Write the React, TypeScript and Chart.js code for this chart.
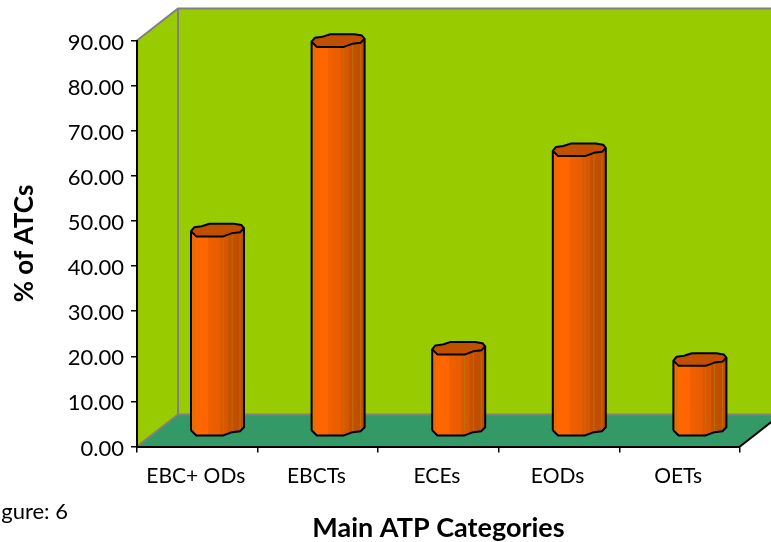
import React, { useEffect, useRef } from "react";
import { Chart, registerables } from "chart.js";

Chart.register(...registerables);

const categories = ["EBC+ ODs", "EBCTs", "ECEs", "EODs", "OETs"];
const atcShare = [44.4, 86.4, 18.2, 62.2, 15.7];
const yTicksMax = 90;
const yTickStep = 10;

const FONT = "Lato, Carlito, 'Open Sans', sans-serif";
const DEPTH_X = 41;
const DEPTH_Y = 32;
const WALL = "#99CC00";
const FLOOR = "#339966";
const FRAME = "#808080";

// Faceted cylinder rims, relative to the centre of the rim, in half-widths and half-heights.
const frontRim: [number, number][] = [
  [-1, 0.15], [-0.8, 0.95], [0.22, 0.95], [0.55, 0.45], [0.85, 0.3], [1, -0.3],
];
const backRim: [number, number][] = [
  [1, -0.3], [0.9, -0.8], [0.62, -1], [-0.3, -1], [-0.6, -0.6], [-0.88, -0.45], [-1, 0.15],
];

const wallsPlugin = {
  id: "walls",
  beforeDraw(chart: any) {
    const { ctx, chartArea: a } = chart;
    const { left: l, right: r, top: t, bottom: b } = a;
    const bl = l + DEPTH_X;
    const bt = t - DEPTH_Y;
    const bb = b - DEPTH_Y;
    const br = r + DEPTH_X;
    ctx.save();
    ctx.fillStyle = WALL;
    ctx.beginPath();
    ctx.moveTo(l, b); ctx.lineTo(bl, bb); ctx.lineTo(bl, bt); ctx.lineTo(l, t);
    ctx.closePath();
    ctx.fill();
    ctx.fillRect(bl, bt, br - bl, bb - bt);
    ctx.fillStyle = FLOOR;
    ctx.beginPath();
    ctx.moveTo(l, b); ctx.lineTo(r, b); ctx.lineTo(br, bb); ctx.lineTo(bl, bb);
    ctx.closePath();
    ctx.fill();
    ctx.strokeStyle = FRAME;
    ctx.lineWidth = 2;
    ctx.beginPath();
    ctx.moveTo(l, t); ctx.lineTo(bl, bt); ctx.lineTo(br, bt);
    ctx.moveTo(bl, bt); ctx.lineTo(bl, bb);
    ctx.moveTo(l, b); ctx.lineTo(bl, bb); ctx.lineTo(br, bb);
    ctx.stroke();
    ctx.strokeStyle = "#000";
    ctx.beginPath();
    ctx.moveTo(r, b); ctx.lineTo(br, bb);
    ctx.stroke();
    ctx.restore();
  },
};

function traceRim(ctx: any, rim: [number, number][], cx: number, cy: number, w: number, h: number, start: boolean) {
  rim.forEach(([dx, dy], i) => {
    const x = cx + dx * w;
    const y = cy + dy * h;
    if (i === 0 && start) ctx.moveTo(x, y);
    else ctx.lineTo(x, y);
  });
}

const cylindersPlugin = {
  id: "cylinders",
  afterDatasetsDraw(chart: any) {
    const { ctx } = chart;
    const halfW = 26.5;
    const halfH = 6.5;
    ctx.save();
    ctx.lineJoin = "round";
    chart.getDatasetMeta(0).data.forEach((bar: any) => {
      const cx = bar.x + DEPTH_X / 2 - 0.3;
      const top = bar.y - DEPTH_Y / 2;
      const base = bar.base - DEPTH_Y / 2 - 0.5;

      const grad = ctx.createLinearGradient(cx - halfW, 0, cx + halfW, 0);
      [
        [0, "#F56200"], [0.04, "#FF6600"], [0.31, "#FF6600"], [0.32, "#F06000"],
        [0.55, "#E85C00"], [0.56, "#DC5800"], [0.7, "#D85600"], [0.71, "#C65000"], [1, "#BC4C00"],
      ].forEach(([o, c]) => grad.addColorStop(o as number, c as string));

      ctx.beginPath();
      traceRim(ctx, frontRim, cx, base, halfW, halfH, true);
      traceRim(ctx, [...frontRim].reverse(), cx, top, halfW, halfH, false);
      ctx.closePath();
      ctx.fillStyle = grad;
      ctx.fill();

      // Thin seams between the facets
      ctx.strokeStyle = "#B87A00";
      ctx.lineWidth = 0.8;
      [-0.88, 0.22, 0.55, 0.85].forEach((f) => {
        const x = cx + f * halfW;
        ctx.beginPath();
        ctx.moveTo(x, top + halfH * 0.7);
        ctx.lineTo(x, base + halfH * 0.3);
        ctx.stroke();
      });

      ctx.strokeStyle = "#000";
      ctx.lineWidth = 2;
      ctx.beginPath();
      traceRim(ctx, frontRim, cx, base, halfW, halfH, true);
      ctx.lineTo(cx + halfW, top - 0.3 * halfH);
      ctx.moveTo(cx - halfW, base + 0.15 * halfH);
      ctx.lineTo(cx - halfW, top + 0.15 * halfH);
      ctx.stroke();

      ctx.beginPath();
      traceRim(ctx, frontRim, cx, top, halfW, halfH, true);
      traceRim(ctx, backRim, cx, top, halfW, halfH, false);
      ctx.closePath();
      ctx.fillStyle = "#C05000";
      ctx.fill();
      ctx.stroke();
    });
    ctx.restore();
  },
};

// Caption that runs off the left edge of the page
const captionPlugin = {
  id: "caption",
  afterDraw(chart: any) {
    const { ctx } = chart;
    ctx.save();
    ctx.fillStyle = "#000";
    ctx.font = `22px ${FONT}`;
    ctx.textAlign = "right";
    ctx.textBaseline = "middle";
    ctx.fillText("Figure: 6", 68, 512);
    ctx.restore();
  },
};

export default function App() {
  const ref = useRef<HTMLCanvasElement>(null);
  useEffect(() => {
    const chart = new Chart(ref.current!, {
      type: "bar",
      data: {
        labels: categories,
        datasets: [{ label: "% of ATCs", data: atcShare, backgroundColor: "rgba(0,0,0,0)", borderWidth: 0 }],
      },
      plugins: [wallsPlugin, cylindersPlugin, captionPlugin],
      options: {
        responsive: false,
        animation: false,
        layout: { padding: { top: 40.5, right: 31, left: 0, bottom: 0 } },
        plugins: { legend: { display: false }, tooltip: { enabled: false } },
        scales: {
          x: {
            afterFit(s: any) { s.height = 95.5; },
            grid: { drawOnChartArea: false, color: "#000", tickLength: 6, lineWidth: 1.5 },
            border: { color: "#000", width: 2 },
            ticks: { color: "#000", font: { family: FONT, size: 21 }, padding: 11, maxRotation: 0, labelOffset: -1.5 },
            title: {
              display: true,
              text: "Main ATP Categories",
              color: "#000",
              font: { family: FONT, size: 27, weight: "bold", lineHeight: 1 },
              padding: { top: 2, bottom: 0 },
            },
          },
          y: {
            min: 0,
            max: yTicksMax,
            afterFit(s: any) { s.width = 137; },
            grid: { drawOnChartArea: false, color: "#000", tickLength: 6, lineWidth: 1.5 },
            border: { color: "#000", width: 2 },
            ticks: {
              stepSize: yTickStep,
              color: "#000",
              font: { family: FONT, size: 22 },
              padding: 7,
              labelOffset: 2,
              callback: (v: any) => Number(v).toFixed(2),
            },
            title: {
              display: true,
              text: "% of ATCs",
              color: "#000",
              font: { family: FONT, size: 26, weight: "bold" },
              padding: { top: 9, bottom: 0 },
            },
          },
        },
      },
    } as any);
    return () => chart.destroy();
  }, []);
  return (
    <div style={{ position: "fixed", left: 0, top: 0, background: "#fff" }}>
      <canvas ref={ref} width={771} height={542} style={{ display: "block" }} />
    </div>
  );
}
